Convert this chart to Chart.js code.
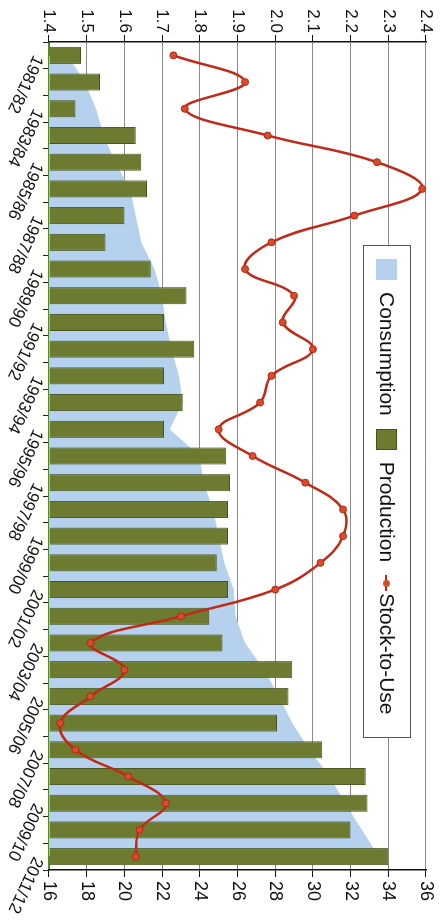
<!DOCTYPE html>
<html>
<head>
<meta charset="utf-8">
<script src="https://cdn.jsdelivr.net/npm/chart.js@4.4.0/dist/chart.umd.min.js"></script>
<style>
  html, body { margin: 0; padding: 0; background: #fff; }
  body { width: 444px; height: 923px; overflow: hidden; position: relative; font-family: "Liberation Sans", Arial, sans-serif; }
  /* chart is laid out landscape, then turned a quarter clockwise */
  #wrap { position: absolute; left: 0; top: 0; width: 923px; height: 444px; transform-origin: 0 0; transform: translate(444px, 0) rotate(90deg); }
  #legend { position: absolute; left: 245px; top: 33px; width: 493px; height: 48px; box-sizing: border-box;
            border: 1.5px solid #555; background: #fff; display: flex; align-items: center; padding-left: 13px;
            font-size: 21px; color: #111; white-space: nowrap; }
  #legend .sw { display: inline-block; width: 21px; height: 21px; margin-right: 12px; }
  #legend .item { display: flex; align-items: center; margin-right: 13px; }
  #legend .ln { position: relative; display: inline-block; width: 16px; height: 21px; margin-right: 2px; }
  #legend .ln::before { content: ""; position: absolute; left: 0; right: 0; top: 10px; height: 2px; background: #c02a17; }
  #legend .ln::after { content: ""; position: absolute; left: 5px; top: 7px; width: 7px; height: 7px; border-radius: 50%; background: #dd4a2a; }
</style>
</head>
<body>
<div id="wrap">
  <canvas id="chart" width="923" height="444"></canvas>
  <div id="legend">
    <span class="item"><span class="sw" style="background:#b5d1ee"></span>Consumption</span>
    <span class="item"><span class="sw" style="background:#6c7b2f;border:1px solid #47531d;box-sizing:border-box"></span>Production</span>
    <span class="item"><span class="ln"></span>Stock-to-Use</span>
  </div>
</div>
<script>
// crop years
const seasons = ['1981/82','1982/83','1983/84','1984/85','1985/86','1986/87','1987/88','1988/89',
                 '1989/90','1990/91','1991/92','1992/93','1993/94','1994/95','1995/96','1996/97',
                 '1997/98','1998/99','1999/00','2000/01','2001/02','2002/03','2003/04','2004/05',
                 '2005/06','2006/07','2007/08','2008/09','2009/10','2010/11','2011/12'];

// right axis (16-36)
const consumption = [17.0, 17.9, 18.5, 18.9, 19.5, 20.3, 20.6, 20.9, 21.6, 22.0, 22.2, 22.5, 22.9, 23.1, 22.4, 24.0,
                     24.2, 24.7, 25.0, 25.3, 25.8, 25.9, 26.4, 27.4, 28.2, 28.9, 29.8, 30.9, 31.7, 32.6, 33.5];
const production  = [17.7, 18.7, 17.4, 20.6, 20.9, 21.2, 20.0, 19.0, 21.4, 23.3, 22.1, 23.7, 22.1, 23.1, 22.1, 25.4,
                     25.6, 25.5, 25.5, 24.9, 25.5, 24.5, 25.2, 28.9, 28.7, 28.1, 30.5, 32.8, 32.9, 32.0, 34.0];

// left axis (1.4-2.4)
const stockToUse  = [1.73, 1.92, 1.76, 1.98, 2.27, 2.39, 2.21, 1.99, 1.92, 2.05, 2.02, 2.10, 1.99, 1.96, 1.85, 1.94,
                     2.08, 2.18, 2.18, 2.12, 2.00, 1.75, 1.51, 1.60, 1.51, 1.43, 1.47, 1.61, 1.71, 1.64, 1.63];

const LABEL_ANGLE = 25; // degrees, labels slope downwards

Chart.defaults.font.family = '"Liberation Sans", Arial, sans-serif';
Chart.defaults.color = '#111';

// year labels: every second season, starting at the tick and sloping down to the right
const seasonLabels = {
    id: 'seasonLabels',
    afterDraw(chart) {
        const xs = chart.scales.x, ctx = chart.ctx;
        ctx.save();
        ctx.font = '17px "Liberation Sans", Arial, sans-serif';
        ctx.fillStyle = '#111';
        ctx.textAlign = 'left';
        ctx.textBaseline = 'middle';
        seasons.forEach((s, i) => {
            if (i % 2) return;
            ctx.save();
            ctx.translate(xs.getPixelForValue(i) + 1, xs.top + 11);
            ctx.rotate(LABEL_ANGLE * Math.PI / 180);
            ctx.fillText(s, 0, 0);
            ctx.restore();
        });
        ctx.restore();
    }
};

new Chart(document.getElementById('chart'), {
    type: 'bar',
    data: {
        labels: seasons,
        datasets: [
            {
                type: 'line',
                label: 'Stock-to-Use',
                data: stockToUse,
                yAxisID: 'y',
                borderColor: '#c02a17',
                borderWidth: 2.5,
                tension: 0.4,
                pointRadius: 3.5,
                pointBackgroundColor: '#dd4a2a',
                pointBorderColor: '#b02a15',
                pointBorderWidth: 1,
                order: 0
            },
            {
                label: 'Production',
                data: production,
                yAxisID: 'y2',
                base: 16,
                backgroundColor: '#6c7b2f',
                borderColor: '#47531d',
                borderWidth: 1,
                categoryPercentage: 1,
                barPercentage: 0.64,
                order: 1
            },
            {
                type: 'line',
                label: 'Consumption',
                data: consumption,
                yAxisID: 'y2',
                fill: 'start',
                backgroundColor: '#b5d1ee',
                borderWidth: 0,
                pointRadius: 0,
                tension: 0,
                order: 2
            }
        ]
    },
    options: {
        responsive: false,
        animation: false,
        layout: { padding: { top: 18, left: 0, right: 0, bottom: 0 } },
        plugins: { legend: { display: false }, tooltip: { enabled: false } },
        scales: {
            x: {
                offset: true,
                ticks: { display: false },
                grid: { offset: true, drawOnChartArea: false, drawTicks: true, tickLength: 6, tickColor: '#222' },
                border: { color: '#4f8a2e', width: 2 },
                afterFit: s => { s.height = 49; }
            },
            y: {
                position: 'left',
                min: 1.4, max: 2.4,
                ticks: { stepSize: 0.1, font: { size: 17 }, padding: 2, callback: v => v.toFixed(1) },
                grid: { color: '#8a8a8a', lineWidth: 1, tickLength: 7, tickColor: '#111' },
                border: { color: '#111', width: 1.5 },
                afterFit: s => { s.width = 42; }
            },
            y2: {
                position: 'right',
                min: 16, max: 36,
                ticks: { stepSize: 2, font: { size: 18 }, padding: 4 },
                grid: { drawOnChartArea: false, tickLength: 7, tickColor: '#111' },
                border: { color: '#111', width: 1.5 },
                afterFit: s => { s.width = 53; }
            }
        }
    },
    plugins: [seasonLabels]
});
</script>
</body>
</html>
